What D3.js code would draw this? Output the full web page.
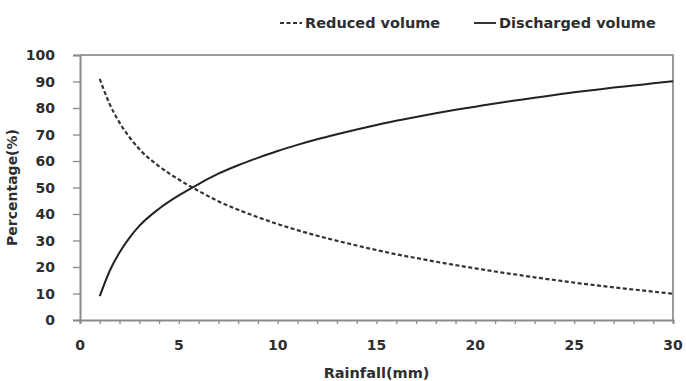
<!DOCTYPE html>
<html>
<head>
<meta charset="utf-8">
<script src="https://cdn.jsdelivr.net/npm/d3@7"></script>
<style>
  body { margin: 0; background: #fff; }
  text { font-family: "DejaVu Sans", sans-serif; font-weight: bold; fill: #2e2e2e; }
</style>
</head>
<body>
<script>
// rainfall (mm) where the curves were read
const rainfall = [1, 1.5, 2, 2.5, 3, 4, 5, 6, 7, 8, 9, 10, 11, 12, 13, 14, 15,
                  16, 17, 18, 19, 20, 21, 22, 23, 24, 25, 26, 27, 28, 29, 30];
const reducedVolume = [91, 81.5, 74.5, 69, 64.5, 58, 53, 48.7, 44.8, 41.6, 38.8, 36.2, 33.9, 31.8, 29.9, 28.1, 26.4,
                       24.8, 23.4, 22, 20.7, 19.5, 18.3, 17.2, 16.1, 15.1, 14.1, 13.2, 12.3, 11.5, 10.7, 9.9];
const dischargedVolume = [9, 18.5, 25.5, 31, 35.5, 42, 47, 51.3, 55.2, 58.4, 61.2, 63.8, 66.1, 68.2, 70.1, 71.9, 73.6,
                          75.2, 76.6, 78, 79.3, 80.5, 81.7, 82.8, 83.9, 84.9, 85.9, 86.8, 87.7, 88.5, 89.3, 90.1];
const xTicks = [0, 5, 10, 15, 20, 25, 30];
const yTicks = [0, 10, 20, 30, 40, 50, 60, 70, 80, 90, 100];

const w = 686, h = 381;
const m = {top: 55, right: 13, bottom: 61, left: 80};

const svg = d3.select('body').append('svg')
  .attr('width', w)
  .attr('height', h);

const x = d3.scaleLinear().domain([0, 30]).range([m.left, w - m.right]);
const y = d3.scaleLinear().domain([0, 100]).range([h - m.bottom, m.top]);

//frame (top + right)
svg.append('path')
  .attr('d', `M${x(0)},${y(100)}H${x(30)}V${y(0)}`)
  .attr('fill', 'none')
  .attr('stroke', '#9a9a9a')
  .attr('stroke-width', 2);

//axes
const xAxis = svg.append('g')
  .attr('transform', `translate(0,${y(0)})`)
  .call(d3.axisBottom(x).tickValues(d3.range(0, 31)).tickSize(4).tickFormat(''));
const yAxis = svg.append('g')
  .attr('transform', `translate(${x(0)},0)`)
  .call(d3.axisLeft(y).tickValues(yTicks).tickSize(7).tickFormat(''));
[xAxis, yAxis].forEach(g => {
  g.select('.domain').attr('stroke', '#8a8a8a').attr('stroke-width', 2);
  g.selectAll('.tick line').attr('stroke', '#8a8a8a').attr('stroke-width', 1.3);
});

//tick labels
svg.selectAll('.xlab')
  .data(xTicks)
  .enter().append('text')
  .attr('x', d => x(d))
  .attr('y', y(0) + 30)
  .attr('text-anchor', 'middle')
  .style('font-size', '14px')
  .text(d => d);
svg.selectAll('.ylab')
  .data(yTicks)
  .enter().append('text')
  .attr('x', 55)
  .attr('y', d => y(d) + 5)
  .attr('text-anchor', 'end')
  .style('font-size', '14px')
  .text(d => d);

//titles
svg.append('text')
  .attr('x', (x(0) + x(30)) / 2)
  .attr('y', 378)
  .attr('text-anchor', 'middle')
  .style('font-size', '14.5px')
  .text('Rainfall(mm)');
svg.append('text')
  .attr('transform', `translate(17,${(y(0) + y(100)) / 2}) rotate(-90)`)
  .attr('text-anchor', 'middle')
  .style('font-size', '14px')
  .text('Percentage(%)');

//lines
const line = vals => d3.line()
  .x((d, i) => x(rainfall[i]))
  .y(d => y(d))
  .curve(d3.curveMonotoneX)(vals);

svg.append('path')
  .attr('d', line(reducedVolume))
  .attr('fill', 'none')
  .attr('stroke', '#333')
  .attr('stroke-width', 2.2)
  .attr('stroke-dasharray', '4,2.5');
svg.append('path')
  .attr('d', line(dischargedVolume))
  .attr('fill', 'none')
  .attr('stroke', '#222')
  .attr('stroke-width', 2);

//legend
const legend = [
  {name: 'Reduced volume', x0: 280, dash: '4,2.5'},
  {name: 'Discharged volume', x0: 474, dash: null}
];
legend.forEach(l => {
  svg.append('line')
    .attr('x1', l.x0).attr('x2', l.x0 + 22)
    .attr('y1', 23).attr('y2', 23)
    .attr('stroke', '#333')
    .attr('stroke-width', 2)
    .attr('stroke-dasharray', l.dash);
  svg.append('text')
    .attr('x', l.x0 + 25)
    .attr('y', 28)
    .style('font-size', '14.5px')
    .text(l.name);
});
</script>
</body>
</html>
